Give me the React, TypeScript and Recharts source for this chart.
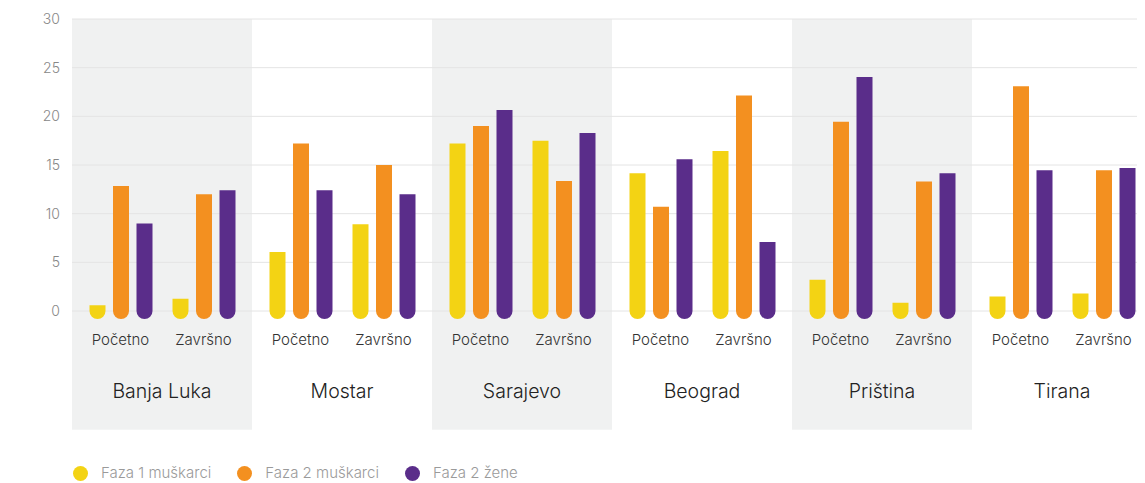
import React from 'react';
import { BarChart, Bar, XAxis, YAxis, CartesianGrid, ReferenceArea, Legend } from 'recharts';

const cities = ['Banja Luka', 'Mostar', 'Sarajevo', 'Beograd', 'Priština', 'Tirana'];
const phases = ['Početno', 'Završno'];
const faza1Muskarci = [0.6, 1.25, 6.05, 8.9, 17.2, 17.5, 14.15, 16.45, 3.2, 0.85, 1.5, 1.8];
const faza2Muskarci = [12.85, 12.0, 17.2, 15.0, 19.0, 13.35, 10.7, 22.15, 19.45, 13.3, 23.1, 14.45];
const faza2Zene = [9.0, 12.4, 12.4, 12.0, 20.65, 18.3, 15.6, 7.1, 24.05, 14.15, 14.45, 14.7];
const yTicks = [0, 5, 10, 15, 20, 25, 30];
const shadedCities = ['Banja Luka', 'Sarajevo', 'Priština'];

const series = [
  { key: 'f1m', name: 'Faza 1 muškarci', color: '#F3D314' },
  { key: 'f2m', name: 'Faza 2 muškarci', color: '#F39020' },
  { key: 'f2z', name: 'Faza 2 žene', color: '#5A2D8A' },
];

const data = faza1Muskarci.map((v, i) => ({
  city: cities[Math.floor(i / 2)],
  phase: phases[i % 2],
  f1m: v,
  f2m: faza2Muskarci[i],
  f2z: faza2Zene[i],
}));

const FONT = 'Inter, "Open Sans", sans-serif';
// the two phase groups of a city sit slightly closer to each other than equal bands would
const PAIR_INSET = 3.5;
const pairShift = (index: number) => (index % 2 === 0 ? PAIR_INSET : -PAIR_INSET);

const RoundBottomBar = (props: any) => {
  const { x, y, width, height, fill, index } = props;
  if (width == null || height == null) return null;
  const sx = x + pairShift(index ?? 0);
  const r = width / 2;
  const bottom = y + height;
  const d = `M${sx},${y} H${sx + width} V${bottom} A${r},${r} 0 0 1 ${sx},${bottom} Z`;
  return <path d={d} fill={fill} />;
};

const PhaseTick = (props: any) => {
  const { x, y, payload, index } = props;
  return (
    <text
      x={x + pairShift(index ?? 0)}
      y={y}
      dy="0.71em"
      textAnchor="middle"
      fontFamily={FONT}
      fontSize={15}
      fontWeight={300}
      fill="#333"
    >
      {payload.value}
    </text>
  );
};

const LegendContent = () => (
  <div style={{ height: 52, position: 'relative', fontFamily: FONT }}>
    <div style={{ position: 'absolute', top: 33, left: 65, display: 'flex', alignItems: 'center', height: 18, lineHeight: '18px' }}>
      {series.map((s) => (
        <div key={s.key} style={{ display: 'flex', alignItems: 'center', marginRight: 26 }}>
          <span style={{ width: 15, height: 15, borderRadius: '50%', background: s.color, display: 'inline-block', marginRight: 13 }} />
          <span style={{ color: '#9a9a9a', fontSize: 15, fontWeight: 300, whiteSpace: 'nowrap' }}>{s.name}</span>
        </div>
      ))}
    </div>
  </div>
);

export default function App() {
  return (
    <div style={{ width: 1137, height: 475, overflow: 'hidden', fontFamily: FONT }}>
      <BarChart
        width={1150}
        height={475}
        data={data}
        margin={{ top: 11, right: 6, left: 0, bottom: 0 }}
        barSize={16}
        barGap={7.5}
      >
        {shadedCities.map((c) => (
          <ReferenceArea
            key={c}
            xAxisId="city"
            x1={c}
            x2={c}
            y1={-12.2}
            y2={30}
            ifOverflow="visible"
            fill="#E6E9E8"
            fillOpacity={0.62}
            stroke="none"
            zIndex={-200}
          />
        ))}
        <CartesianGrid vertical={false} stroke="#e4e4e4" strokeWidth={1} />
        <XAxis
          dataKey="phase"
          axisLine={false}
          tickLine={false}
          tickSize={0}
          tickMargin={23}
          height={50}
          interval={0}
          tick={PhaseTick}
        />
        <XAxis
          xAxisId="city"
          dataKey="city"
          allowDuplicatedCategory={false}
          axisLine={false}
          tickLine={false}
          tickSize={0}
          tickMargin={23}
          height={70}
          interval={0}
          tick={{ fontFamily: FONT, fontSize: 19.5, fontWeight: 300, fill: '#222' }}
        />
        <YAxis
          width={64}
          domain={[0, 30]}
          ticks={yTicks}
          axisLine={false}
          tickLine={false}
          tickSize={6}
          tickMargin={6}
          tick={{ fontFamily: FONT, fontSize: 14, fontWeight: 300, fill: '#888' }}
        />
        {series.map((s) => (
          <Bar
            key={s.key}
            dataKey={s.key}
            name={s.name}
            fill={s.color}
            isAnimationActive={false}
            shape={RoundBottomBar}
          />
        ))}
        <Legend verticalAlign="bottom" align="left" content={LegendContent} />
      </BarChart>
    </div>
  );
}
